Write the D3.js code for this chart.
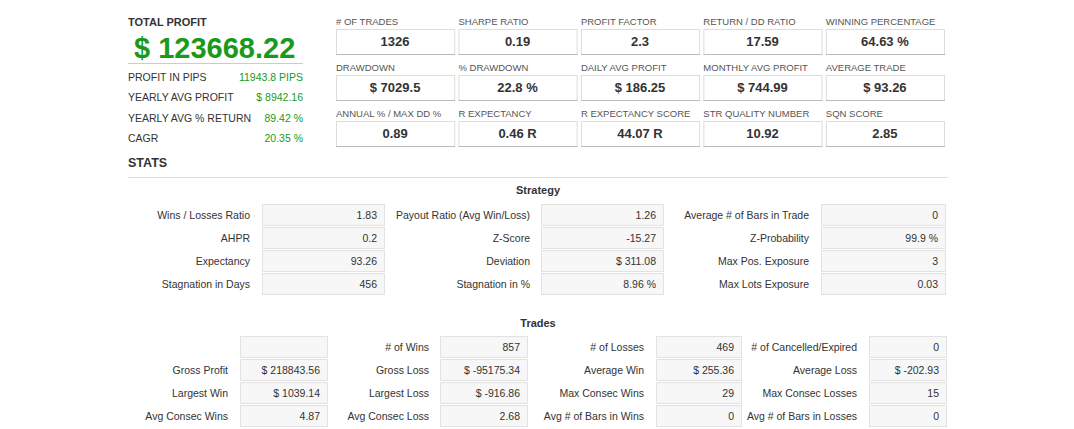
<!DOCTYPE html>
<html><head><meta charset="utf-8">
<script src="https://cdn.jsdelivr.net/npm/d3@7"></script>
<style>body{margin:0;background:#fff;font-family:"Liberation Sans",Arial,sans-serif}</style>
</head><body>
<svg id="c" width="1074" height="429"></svg>
<script>
// headline numbers
const totalProfit = "$ 123668.22";
const summaryLabels = ["PROFIT IN PIPS", "YEARLY AVG PROFIT", "YEARLY AVG % RETURN", "CAGR"];
const summaryValues = ["11943.8 PIPS", "$ 8942.16", "89.42 %", "20.35 %"];

// KPI boxes, 3 rows x 5
const kpiLabels = [
  ["# OF TRADES", "SHARPE RATIO", "PROFIT FACTOR", "RETURN / DD RATIO", "WINNING PERCENTAGE"],
  ["DRAWDOWN", "% DRAWDOWN", "DAILY AVG PROFIT", "MONTHLY AVG PROFIT", "AVERAGE TRADE"],
  ["ANNUAL % / MAX DD %", "R EXPECTANCY", "R EXPECTANCY SCORE", "STR QUALITY NUMBER", "SQN SCORE"]
];
const kpiValues = [
  ["1326", "0.19", "2.3", "17.59", "64.63 %"],
  ["$ 7029.5", "22.8 %", "$ 186.25", "$ 744.99", "$ 93.26"],
  ["0.89", "0.46 R", "44.07 R", "10.92", "2.85"]
];

// Strategy table
const stratLabels = [
  ["Wins / Losses Ratio", "Payout Ratio (Avg Win/Loss)", "Average # of Bars in Trade"],
  ["AHPR", "Z-Score", "Z-Probability"],
  ["Expectancy", "Deviation", "Max Pos. Exposure"],
  ["Stagnation in Days", "Stagnation in %", "Max Lots Exposure"]
];
const stratValues = [
  ["1.83", "1.26", "0"],
  ["0.2", "-15.27", "99.9 %"],
  ["93.26", "$ 311.08", "3"],
  ["456", "8.96 %", "0.03"]
];

// Trades table
const tradeLabels = [
  ["", "# of Wins", "# of Losses", "# of Cancelled/Expired"],
  ["Gross Profit", "Gross Loss", "Average Win", "Average Loss"],
  ["Largest Win", "Largest Loss", "Max Consec Wins", "Max Consec Losses"],
  ["Avg Consec Wins", "Avg Consec Loss", "Avg # of Bars in Wins", "Avg # of Bars in Losses"]
];
const tradeValues = [
  ["", "857", "469", "0"],
  ["$ 218843.56", "$ -95175.34", "$ 255.36", "$ -202.93"],
  ["$ 1039.14", "$ -916.86", "29", "15"],
  ["4.87", "2.68", "0", "0"]
];

const svg = d3.select("#c");
const green = "#1a9a1a", txt = "#333";

svg.append("text").attr("x", 128).attr("y", 26).attr("font-size", 11).attr("font-weight", "bold")
  .attr("fill", txt).text("TOTAL PROFIT");
svg.append("text").attr("x", 134).attr("y", 58).attr("font-size", 29)
  .attr("font-weight", "bold").attr("fill", green).text(totalProfit);
svg.append("line").attr("x1", 128).attr("x2", 303).attr("y1", 63.5).attr("y2", 63.5).attr("stroke", "#ccc");

const sy = d3.scalePoint().domain(d3.range(summaryLabels.length)).range([81, 142]);
summaryLabels.forEach((l, i) => {
  svg.append("text").attr("x", 128).attr("y", sy(i)).attr("font-size", 10.5).attr("fill", txt).text(l);
  svg.append("text").attr("x", 303).attr("y", sy(i)).attr("text-anchor", "end").attr("font-size", 10.5)
    .attr("fill", green).text(summaryValues[i]);
});

// KPI grid
const kx = d3.scaleBand().domain(d3.range(5)).range([336, 944]).paddingInner(0.035);
const ky = d3.scalePoint().domain(d3.range(3)).range([29, 121]);
kpiLabels.forEach((row, r) => row.forEach((l, c) => {
  const x = kx(c), y = ky(r), w = kx.bandwidth();
  svg.append("text").attr("x", x).attr("y", y - 4).attr("font-size", 9.5).attr("fill", "#555").text(l);
  svg.append("rect").attr("x", x + 0.5).attr("y", y + 0.5).attr("width", w).attr("height", 25)
    .attr("fill", "#fff").attr("stroke", "#ddd");
  svg.append("line").attr("x1", x).attr("x2", x + w + 1).attr("y1", y + 25.5).attr("y2", y + 25.5).attr("stroke", "#bbb");
  svg.append("text").attr("x", x + w / 2).attr("y", y + 17).attr("text-anchor", "middle").attr("font-size", 13)
    .attr("font-weight", "bold").attr("fill", txt).text(kpiValues[r][c]);
}));

svg.append("text").attr("x", 128).attr("y", 167).attr("font-size", 12.5).attr("font-weight", "bold")
  .attr("fill", txt).text("STATS");
svg.append("line").attr("x1", 128).attr("x2", 948).attr("y1", 177.5).attr("y2", 177.5).attr("stroke", "#ddd");

function table(title, titleY, labels, values, cols, rowY) {
  svg.append("text").attr("x", 538).attr("y", titleY).attr("text-anchor", "middle").attr("font-size", 11)
    .attr("font-weight", "bold").attr("fill", txt).text(title);
  const y = d3.scalePoint().domain(d3.range(labels.length)).range(rowY);
  labels.forEach((row, r) => row.forEach((l, c) => {
    const col = cols[c], cy = y(r);
    svg.append("text").attr("x", col.lr).attr("y", cy + 4).attr("text-anchor", "end").attr("font-size", 10.5)
      .attr("fill", txt).text(l);
    svg.append("rect").attr("x", col.x0 + 0.5).attr("y", cy - 10.5).attr("width", col.x1 - col.x0).attr("height", 21)
      .attr("fill", "#f7f7f7").attr("stroke", "#e2e2e2");
    svg.append("text").attr("x", col.x1 - 7).attr("y", cy + 4).attr("text-anchor", "end").attr("font-size", 10.5)
      .attr("fill", txt).text(values[r][c]);
  }));
}

table("Strategy", 194, stratLabels, stratValues,
  [{lr: 250, x0: 262, x1: 384}, {lr: 530, x0: 541, x1: 663}, {lr: 809, x0: 821, x1: 945}], [215, 284]);
table("Trades", 327, tradeLabels, tradeValues,
  [{lr: 228, x0: 240, x1: 327}, {lr: 429, x0: 440, x1: 527}, {lr: 644, x0: 656, x1: 741}, {lr: 857, x0: 869, x1: 946}],
  [347, 416]);
</script>
</body></html>
